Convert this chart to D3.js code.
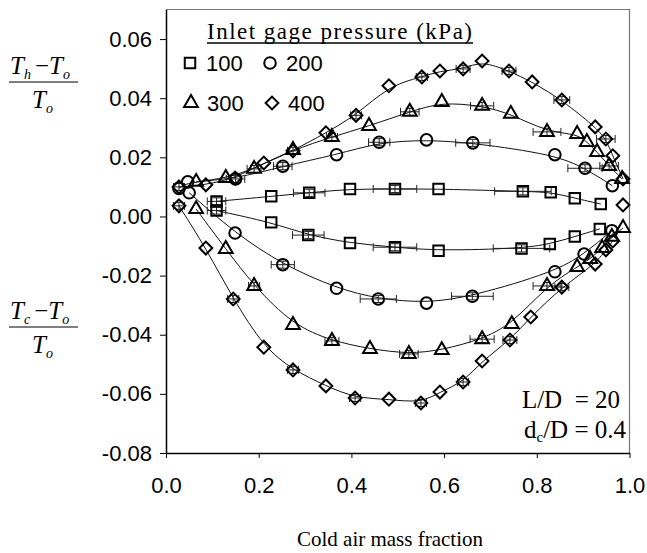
<!DOCTYPE html>
<html>
<head>
<meta charset="utf-8">
<script src="https://cdn.jsdelivr.net/npm/d3@7"></script>
<style>
  body { margin: 0; background: #fff; }
  svg { display: block; }
</style>
</head>
<body>
<svg id="chart" width="647" height="553"></svg>
<script>
// data: [x, y, xerr, yerr]
var hot100 = [[0.109,0.0051,0.02,0.0012],[0.227,0.0068,0,0],[0.309,0.0080,0.034,0.0012],[0.397,0.0093,0,0],
  [0.494,0.0093,0.047,0.0012],[0.588,0.0093,0,0],[0.770,0.0085,0.061,0.0012],[0.830,0.0082,0,0],[0.882,0.0062,0,0],[0.938,0.0042,0,0]];
var cold100 = [[0.109,0.0020,0.02,0.0012],[0.227,-0.0020,0,0],[0.307,-0.0063,0.034,0.0012],[0.397,-0.0090,0,0],
  [0.494,-0.0104,0.047,0.0012],[0.588,-0.0116,0,0],[0.767,-0.0108,0.061,0.0012],[0.828,-0.0093,0,0],[0.882,-0.0068,0,0],[0.936,-0.0042,0,0]];
var hot200 = [[0.028,0.0095,0,0],[0.047,0.0117,0,0],[0.150,0.0127,0.02,0.0012],[0.252,0.0170,0.02,0.0012],[0.368,0.0209,0,0],
  [0.460,0.0251,0.023,0.0012],[0.562,0.0259,0,0],[0.662,0.0249,0.037,0.0012],[0.839,0.0209,0,0],[0.904,0.0163,0.037,0.0012],[0.963,0.0104,0,0]];
var cold200 = [[0.050,0.0080,0,0],[0.149,-0.0056,0,0],[0.252,-0.0163,0.025,0.0012],[0.368,-0.0243,0,0],[0.458,-0.0279,0.039,0.0012],
  [0.562,-0.0293,0,0],[0.661,-0.0270,0.045,0.0012],[0.839,-0.0187,0,0],[0.902,-0.0127,0,0],[0.962,-0.0048,0,0]];
var hot300 = [[0.065,0.0117,0,0],[0.129,0.0130,0,0],[0.190,0.0161,0.015,0.0012],[0.274,0.0225,0,0],[0.358,0.0269,0.012,0.0012],
  [0.438,0.0306,0,0],[0.526,0.0354,0.02,0.0012],[0.595,0.0387,0,0],[0.682,0.0374,0.025,0.0012],[0.744,0.0347,0,0],
  [0.822,0.0286,0.03,0.0012],[0.887,0.0279,0,0],[0.908,0.0252,0,0],[0.930,0.0218,0,0],[0.956,0.0171,0.02,0.0012],[0.984,0.0127,0,0]];
var cold300 = [[0.065,0.0025,0,0],[0.129,-0.0110,0,0],[0.190,-0.0235,0.012,0.0012],[0.274,-0.0367,0,0],[0.358,-0.0421,0.015,0.0012],
  [0.440,-0.0448,0,0],[0.524,-0.0465,0.02,0.0012],[0.595,-0.0452,0,0],[0.682,-0.0415,0.026,0.0012],[0.746,-0.0364,0,0],
  [0.822,-0.0235,0.03,0.0012],[0.887,-0.0171,0,0],[0.915,-0.0144,0,0],[0.941,-0.0107,0,0],[0.962,-0.0069,0,0],[0.986,-0.0039,0,0]];
var hot400 = [[0.028,0.0100,0.012,0.0012],[0.086,0.0107,0,0],[0.149,0.0130,0,0],[0.211,0.0181,0,0],[0.274,0.0222,0.012,0.0012],
  [0.345,0.0283,0,0],[0.410,0.0342,0.012,0.0012],[0.481,0.0442,0,0],[0.552,0.0472,0.012,0.0012],[0.591,0.0492,0,0],
  [0.641,0.0499,0.015,0.0012],[0.682,0.0526,0,0],[0.740,0.0492,0.015,0.0012],[0.790,0.0455,0,0],[0.854,0.0394,0.017,0.0012],
  [0.926,0.0303,0,0],[0.949,0.0262,0.02,0.0012],[0.964,0.0205,0,0],[0.986,0.0127,0,0]];
var hot400Extra = [[0.986,0.0039,0,0]];
var cold400 = [[0.028,0.0036,0.012,0.0012],[0.086,-0.0107,0,0],[0.145,-0.0279,0.012,0.0012],[0.211,-0.0442,0,0],[0.274,-0.0519,0.012,0.0012],
  [0.345,-0.0573,0,0],[0.408,-0.0614,0.012,0.0012],[0.481,-0.0618,0,0],[0.550,-0.0631,0.012,0.0012],[0.591,-0.0594,0,0],
  [0.641,-0.0560,0.012,0.0012],[0.682,-0.0489,0,0],[0.742,-0.0418,0.015,0.0012],[0.787,-0.0340,0,0],[0.854,-0.0239,0.015,0.0012],
  [0.926,-0.0161,0,0],[0.949,-0.0113,0,0],[0.964,-0.0083,0,0]];

var xTicks = [0, 0.2, 0.4, 0.6, 0.8, 1.0];
var yTicks = [-0.08, -0.06, -0.04, -0.02, 0.00, 0.02, 0.04, 0.06];
var pressures = ["100", "200", "300", "400"];
var markers = ["square", "circle", "triangle", "diamond"];

var series = [
  {data: hot100, marker: "square"}, {data: cold100, marker: "square"},
  {data: hot200, marker: "circle"}, {data: cold200, marker: "circle"},
  {data: hot300, marker: "triangle"}, {data: cold300, marker: "triangle"},
  {data: hot400, marker: "diamond"}, {data: cold400, marker: "diamond"}
];

var svg = d3.select("#chart");
var x = d3.scaleLinear().domain([0, 1]).range([166, 629.5]);
var y = d3.scaleLinear().domain([-0.08, 0.07]).range([453, 9.5]);

// frame (top/right are grey)
svg.append("path")
  .attr("d", "M166,9.5H629.5V453")
  .attr("fill", "none").attr("stroke", "#777").attr("stroke-width", 1.2);

function markerPath(type) {
  var s;
  if (type == "square") s = d3.symbol(d3.symbolSquare, 110);
  else if (type == "circle") s = d3.symbol(d3.symbolCircle, 105);
  else if (type == "triangle") s = d3.symbol(d3.symbolTriangle, 82);
  else s = d3.symbol(d3.symbolSquare, 82);
  return s();
}

function drawMarker(g, type, px, py) {
  var p = g.append("path")
    .attr("d", markerPath(type))
    .attr("fill", "none").attr("stroke", "#000").attr("stroke-width", 2);
  if (type == "diamond") p.attr("transform", "translate(" + px + "," + py + ") rotate(45)");
  else p.attr("transform", "translate(" + px + "," + py + ")");
}

var line = d3.line()
  .x(function(d) { return x(d[0]); })
  .y(function(d) { return y(d[1]); })
  .curve(d3.curveBasis);

var plot = svg.append("g");

series.forEach(function(s) {
  plot.append("path")
    .attr("d", line(s.data))
    .attr("fill", "none").attr("stroke", "#111").attr("stroke-width", 1);
});

// error bars
var cap = 4;
series.forEach(function(s) {
  s.data.forEach(function(d) {
    if (!d[2]) return;
    var cx = x(d[0]), cy = y(d[1]);
    var x0 = x(d[0] - d[2]), x1 = x(d[0] + d[2]);
    var y0 = y(d[1] - d[3]), y1 = y(d[1] + d[3]);
    var path = "M" + x0 + "," + cy + "H" + x1 +
      "M" + x0 + "," + (cy - cap) + "V" + (cy + cap) +
      "M" + x1 + "," + (cy - cap) + "V" + (cy + cap) +
      "M" + cx + "," + y0 + "V" + y1 +
      "M" + (cx - cap) + "," + y0 + "H" + (cx + cap) +
      "M" + (cx - cap) + "," + y1 + "H" + (cx + cap);
    plot.append("path").attr("d", path)
      .attr("fill", "none").attr("stroke", "#222").attr("stroke-width", 1);
  });
});

series.forEach(function(s) {
  s.data.forEach(function(d) { drawMarker(plot, s.marker, x(d[0]), y(d[1])); });
});
hot400Extra.forEach(function(d) { drawMarker(plot, "diamond", x(d[0]), y(d[1])); });

// axes
var xAxis = svg.append("g")
  .attr("transform", "translate(0,453)")
  .call(d3.axisBottom(x).tickValues(xTicks).tickSize(5).tickSizeOuter(0).tickPadding(19)
    .tickFormat(function(d) { return d.toFixed(1); }));
var yAxis = svg.append("g")
  .attr("transform", "translate(166,0)")
  .call(d3.axisLeft(y).tickValues(yTicks).tickSize(6).tickSizeOuter(0).tickPadding(8)
    .tickFormat(function(d) { return d.toFixed(2); }));

[xAxis, yAxis].forEach(function(a) {
  a.select(".domain").attr("stroke", "#000").attr("stroke-width", 1.5);
  a.selectAll(".tick line").attr("stroke", "#000");
  a.selectAll("text").attr("font-family", "Liberation Sans, Arial, sans-serif")
    .attr("font-size", 22).attr("fill", "#000");
});

// legend
var serif = "Liberation Serif, Times New Roman, serif";
var sans = "Liberation Sans, Arial, sans-serif";
svg.append("text").attr("x", 207).attr("y", 39)
  .attr("font-family", serif).attr("font-size", 23)
  .attr("textLength", 265).attr("lengthAdjust", "spacing")
  .text("Inlet gage pressure (kPa)");
svg.append("line").attr("x1", 207).attr("x2", 473).attr("y1", 43).attr("y2", 43)
  .attr("stroke", "#000").attr("stroke-width", 1.3);

var legPos = [[190, 63], [270, 63], [191, 103], [272, 103]];
pressures.forEach(function(p, i) {
  drawMarker(svg, markers[i], legPos[i][0], legPos[i][1]);
  svg.append("text").attr("x", legPos[i][0] + 16).attr("y", legPos[i][1] + 8)
    .attr("font-family", sans).attr("font-size", 22).text(p);
});

// y-axis labels as fractions
function fraction(sub, cy) {
  var t = svg.append("text").attr("font-family", serif).attr("font-size", 25)
    .attr("x", 10).attr("y", cy - 8);
  t.append("tspan").attr("font-style", "italic").text("T");
  t.append("tspan").attr("font-style", "italic").attr("font-size", 14).attr("dy", 5).text(sub);
  t.append("tspan").attr("dy", -5).attr("dx", 4).text("\u2212");
  t.append("tspan").attr("font-style", "italic").text("T");
  t.append("tspan").attr("font-style", "italic").attr("font-size", 14).attr("dy", 5).text("o");
  svg.append("line").attr("x1", 9).attr("x2", 78).attr("y1", cy).attr("y2", cy)
    .attr("stroke", "#000").attr("stroke-width", 1.2);
  var b = svg.append("text").attr("font-family", serif).attr("font-size", 25)
    .attr("x", 32).attr("y", cy + 26);
  b.append("tspan").attr("font-style", "italic").text("T");
  b.append("tspan").attr("font-style", "italic").attr("font-size", 14).attr("dy", 5).text("o");
}
fraction("h", 82);
fraction("c", 327);

// annotations
svg.append("text").attr("x", 620).attr("y", 408).attr("text-anchor", "end")
  .attr("font-family", serif).attr("font-size", 25).style("white-space", "pre")
  .text("L/D  = 20");
var dc = svg.append("text").attr("x", 626).attr("y", 438).attr("text-anchor", "end")
  .attr("font-family", serif).attr("font-size", 25);
dc.append("tspan").text("d");
dc.append("tspan").attr("font-size", 15).attr("dy", 4).text("c");
dc.append("tspan").attr("dy", -4).text("/D = 0.4");

// x title
svg.append("text").attr("x", 390).attr("y", 546).attr("text-anchor", "middle")
  .attr("font-family", serif).attr("font-size", 21).text("Cold air mass fraction");
</script>
</body>
</html>
